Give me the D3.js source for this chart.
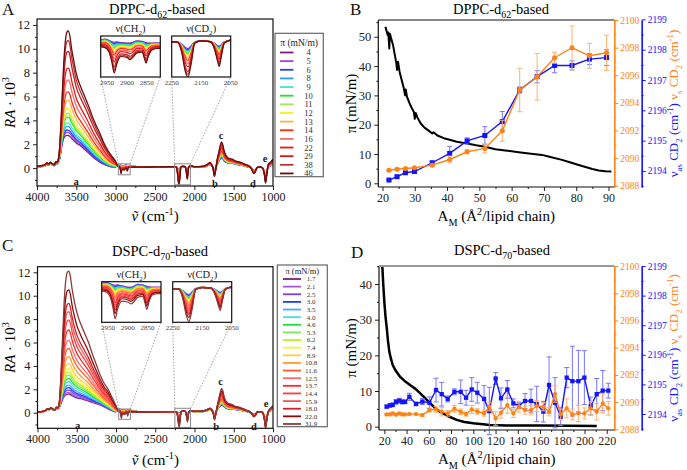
<!DOCTYPE html>
<html>
<head>
<meta charset="utf-8">
<script src="https://cdn.jsdelivr.net/npm/d3@7"></script>
<style>
  body { margin: 0; background: #fff; }
</style>
</head>
<body>
<svg id="fig" width="687" height="470"></svg>
<script>
// ---------- spectra (panels A and C) ----------
// wavenumber grid shared by the traced spectra
const wavenumbers = [
  4000, 3950, 3900, 3870, 3850, 3830, 3800, 3780, 3760, 3745,
  3730, 3715, 3700, 3680, 3660, 3640, 3620, 3600, 3580, 3560,
  3530, 3500, 3450, 3400, 3350, 3300, 3250, 3200, 3150, 3100,
  3050, 3000, 2966, 2955, 2945, 2938, 2932, 2926, 2915, 2900,
  2892, 2885, 2875, 2862, 2856, 2852, 2847, 2838, 2825, 2816,
  2700, 2500, 2300, 2250, 2230, 2215, 2205, 2195, 2185, 2172,
  2150, 2120, 2105, 2095, 2089, 2083, 2072, 2050, 2000, 1900,
  1850, 1800, 1780, 1760, 1745, 1730, 1710, 1690, 1670, 1655,
  1640, 1620, 1600, 1580, 1550, 1520, 1480, 1450, 1400, 1350,
  1300, 1270, 1245, 1225, 1200, 1170, 1140, 1110, 1095, 1080,
  1060, 1030, 1000
];

// DPPC-d62: lowest (4 mN/m) and highest (46 mN/m) traces
const dppcLow = [
  0.1, 0.12, 0.2, 0.3, 0.25, 0.35, 0.25, 0.2, 0.35, 0.35,
  0.5, 0.7, 1.2, 2.0, 2.5, 2.7, 2.75, 2.72, 2.65, 2.5,
  2.3, 2.1, 1.9, 1.6, 1.3, 1.0, 0.72, 0.5, 0.32, 0.18,
  0.09, 0.1, 0.27, 0.29, 0.26, 0.23, 0.22, 0.23, 0.21, 0.2,
  0.2, 0.22, 0.25, 0.24, 0.22, 0.21, 0.2, 0.2, 0.2, 0.2,
  0.1, 0.08, 0.08, 0.1, 0.1, 0.0, -0.12, -0.18, -0.08, 0.1,
  0.15, 0.12, 0.05, -0.05, -0.08, -0.03, 0.1, 0.15, 0.1, 0.1,
  0.15, 0.3, 0.2, 0.05, -0.3, -0.05, 0.3, 0.55, 0.75, 0.85,
  0.8, 0.6, 0.5, 0.45, 0.4, 0.4, 0.35, 0.3, 0.25, 0.15,
  0.1, -0.05, -0.2, -0.15, 0.05, 0.08, 0.05, -0.3, -0.8, -0.35,
  0.1, 0.2, 0.3
];
const dppcHigh = [
  0.15, 0.2, 0.3, 0.45, 0.35, 0.5, 0.35, 0.3, 0.55, 0.5,
  0.7, 1.5, 3.2, 6.0, 8.8, 10.6, 11.4, 11.5, 11.0, 10.0,
  8.9, 7.9, 6.9, 6.1, 5.3, 4.4, 3.6, 2.9, 2.1, 1.5,
  1.0, 0.55, 0.12, 0.1, 0.0, -0.22, -0.47, -0.28, -0.1, -0.12,
  -0.17, -0.12, -0.02, 0.0, -0.14, -0.25, -0.12, 0.04, 0.08, 0.08,
  0.08, 0.1, 0.12, 0.12, 0.1, -0.4, -1.1, -1.4, -0.9, 0.05,
  0.15, 0.12, -0.2, -0.7, -0.95, -0.6, 0.05, 0.2, 0.12, 0.15,
  0.25, 0.45, 0.3, -0.1, -0.7, -0.2, 0.7, 1.3, 1.9, 2.2,
  2.0, 1.4, 1.1, 0.9, 0.8, 0.75, 0.6, 0.55, 0.45, 0.3,
  0.15, -0.1, -0.45, -0.3, 0.05, 0.1, 0.05, -0.5, -1.25, -0.6,
  0.3, 0.5, 0.75
];
const dppcPressures = ["4", "5", "6", "8", "9", "10", "11", "12", "13", "14", "16", "22", "29", "38", "46"];
const dppcPeaks = [2.75, 3.0, 3.2, 3.5, 3.8, 4.3, 4.6, 5.0, 5.7, 6.4, 7.4, 8.4, 9.8, 10.7, 11.5];
const dppcColors = ["#7a1a7a", "#a040e8", "#2a3cf5", "#2a9cf5", "#40e8c8", "#22e622", "#a8e84a", "#f5f020",
  "#ffb04a", "#ff2a10", "#ff6a6a", "#e81818", "#cc1a1a", "#b03a3a", "#6e0a0a"];

// DSPC-d70: lowest (1.7 mN/m) and highest (31.9 mN/m) traces
const dspcLow = [
  0.05, 0.08, 0.15, 0.3, 0.25, 0.35, 0.25, 0.2, 0.3, 0.3,
  0.4, 0.55, 0.8, 1.15, 1.4, 1.52, 1.58, 1.6, 1.55, 1.45,
  1.35, 1.28, 1.2, 1.1, 1.0, 0.88, 0.77, 0.66, 0.5, 0.33,
  0.18, 0.08, 0.28, 0.3, 0.28, 0.25, 0.24, 0.25, 0.23, 0.2,
  0.2, 0.22, 0.26, 0.25, 0.23, 0.22, 0.21, 0.2, 0.2, 0.2,
  0.08, 0.06, 0.08, 0.1, 0.1, 0.0, -0.1, -0.15, -0.05, 0.1,
  0.15, 0.12, 0.05, -0.04, -0.06, -0.02, 0.1, 0.15, 0.1, 0.1,
  0.15, 0.25, 0.2, 0.05, -0.25, -0.05, 0.25, 0.45, 0.6, 0.65,
  0.6, 0.5, 0.4, 0.35, 0.3, 0.3, 0.28, 0.25, 0.2, 0.12,
  0.08, -0.05, -0.15, -0.1, 0.05, 0.08, 0.05, -0.25, -0.7, -0.3,
  0.05, 0.2, 0.35
];
const dspcHigh = [
  0.05, 0.1, 0.2, 0.35, 0.3, 0.45, 0.3, 0.25, 0.5, 0.45,
  0.6, 1.5, 3.5, 6.5, 9.5, 11.3, 12.0, 12.1, 11.6, 10.6,
  9.5, 8.6, 7.6, 6.8, 6.0, 5.0, 4.1, 3.2, 2.5, 2.0,
  1.3, 0.6, 0.12, 0.1, 0.0, -0.22, -0.48, -0.28, -0.1, -0.12,
  -0.16, -0.12, -0.02, 0.0, -0.16, -0.28, -0.14, 0.03, 0.06, 0.06,
  0.06, 0.08, 0.1, 0.1, 0.08, -0.35, -0.95, -1.25, -0.8, 0.05,
  0.14, 0.12, -0.2, -0.6, -0.8, -0.5, 0.05, 0.18, 0.12, 0.15,
  0.25, 0.4, 0.25, -0.1, -0.62, -0.15, 0.6, 1.2, 1.8, 2.08,
  1.9, 1.3, 1.0, 0.85, 0.75, 0.7, 0.55, 0.5, 0.4, 0.25,
  0.1, -0.1, -0.35, -0.25, 0.05, 0.1, 0.05, -0.6, -1.35, -0.7,
  0.1, 0.4, 0.6
];
const dspcPressures = ["1.7", "2.1", "2.5", "3.0", "3.5", "4.0", "4.6", "5.3", "6.2", "7.4",
  "8.9", "10.8", "11.6", "12.5", "13.7", "14.4", "15.9", "18.0", "22.0", "31.9"];
const dspcPeaks = [1.6, 1.74, 1.94, 2.14, 2.36, 2.65, 2.93, 3.22, 3.5, 3.79,
  4.22, 4.79, 5.5, 6.21, 7.07, 7.92, 8.63, 9.34, 10.5, 12.1];
const dspcColors = ["#7b1f7b", "#a855d8", "#7b3ff2", "#1a3cff", "#4aa3ff", "#3fe0f0", "#22dd33", "#7fe85a",
  "#b5f02a", "#fff030", "#ffcc44", "#ff9a2e", "#ff5a2a", "#ff6b6b", "#ff2a2a", "#ff3b3b", "#f05a5a",
  "#d42020", "#8b0a0a", "#8e3a3a"];

// ---------- isotherms + CD2 band positions (panels B and D) ----------
const isoDPPC = [
  [20.9, 53.4], [21.6, 50.6], [21.8, 51.5], [22.1, 46], [22.3, 51], [22.8, 49], [23.3, 47], [23.7, 44.5],
  [24.0, 42.7], [24.3, 41], [24.5, 38.7], [24.8, 41.5], [25.3, 38], [26.0, 35], [26.6, 32.4], [27.0, 30],
  [27.2, 32], [27.6, 29.5], [28.3, 27.5], [29.0, 25.8], [29.7, 24.4], [30.0, 22], [30.3, 24], [30.8, 22.5],
  [31.8, 20.5], [33, 19], [34.5, 17.8], [35.4, 17.0], [35.8, 17.4], [37, 16.3], [39, 15.4], [41.1, 14.8],
  [43, 14.2], [46.2, 13.6], [49, 13.0], [51.7, 12.5], [55, 11.6], [58, 11.2], [62.2, 10.6], [66, 10.1],
  [69.4, 9.7], [72, 9.0], [75.6, 8.0], [78, 7.2], [81.8, 5.9], [85, 4.9], [87, 4.4], [89, 4.1], [90.9, 4.0]
];
const areaDPPC = [22.0, 24.5, 27.1, 29.9, 35.4, 40.8, 46.2, 51.7, 57.1, 62.5, 67.9, 73.3, 78.7, 84.1, 89.4];
const nuAsDPPC = [2193.70, 2193.81, 2193.94, 2193.98, 2194.27, 2194.58, 2194.99, 2195.17, 2195.63, 2196.67,
  2197.11, 2197.48, 2197.48, 2197.69, 2197.74];
const nuAsErrDPPC = [0.03, 0.03, 0.04, 0.05, 0.05, 0.23, 0.1, 0.29, 0.33, 0.1, 0.2, 0.24, 0.15, 0.18, 0.26];
const nuSDPPC = [2089.13, 2089.2, 2089.25, 2089.3, 2089.49, 2089.9, 2090.46, 2090.7, 2091.98, 2094.93,
  2095.89, 2097.27, 2097.99, 2097.41, 2097.63];
const nuSErrDPPC = [0.05, 0.05, 0.05, 0.05, 0.08, 0.24, 0.15, 0.33, 0.76, 1.57, 1.69, 0.4, 1.57, 0.9, 1.27];

const isoDSPC = [
  [17.5, 48], [18.2, 45], [19, 40], [20, 35], [21, 31], [22.2, 27.6], [23.3, 24], [24.5, 21], [26, 19],
  [27.5, 17.3], [30, 15.8], [34.1, 14], [38, 12.9], [43.1, 11.7], [48, 10.6], [52.1, 9.4], [56, 8.2],
  [61.1, 6.6], [65, 5.4], [70.1, 4.2], [77, 3.0], [85.1, 1.9], [92, 1.3], [100, 0.94], [115, 0.5],
  [130, 0.35], [160, 0.3], [211, 0.2]
];
const areaDSPC = [22.1, 25.1, 27.5, 30.5, 33.5, 36.2, 38.6, 42.5, 48.5, 54.2,
  60.5, 66.5, 71.6, 77.0, 83.0, 88.7, 93.5, 98.6, 103.6, 109.7,
  114.4, 120.1, 124.9, 130.6, 136.0, 141.1, 146.5, 151.9, 157.0, 163.0,
  168.1, 173.5, 178.6, 184.0, 189.1, 194.5, 199.9, 205.6, 211.0, 216.4,
  221.4];
const nuAsDSPC = [2194.25, 2194.29, 2194.31, 2194.41, 2194.45, 2194.41, 2194.41, 2194.58, 2194.34, 2194.42,
  2194.38, 2194.81, 2194.67, 2194.51, 2194.75, 2194.75, 2194.55, 2194.83, 2194.72, 2194.51,
  2194.10, 2195.20, 2194.53, 2194.83, 2194.36, 2194.28, 2194.44, 2194.44, 2194.34, 2194.08,
  2194.98, 2194.38, 2193.91, 2195.23, 2195.11, 2195.11, 2195.23, 2194.27, 2194.67, 2194.79,
  2194.79];
const nuAsErrDSPC = [0.05, 0.06, 0.06, 0.08, 0.08, 0.07, 0.06, 0.12, 0.06, 0.1,
  0.2, 0.4, 0.4, 0.1, 0.1, 0.4, 0.25, 0.4, 0.35, 0.45,
  0.8, 0.2, 0.35, 0.3, 0.15, 0.1, 0.25, 0.4, 0.6, 0.35,
  0.95, 0.85, 0.3, 0.34, 1.18, 1.04, 0.91, 0.3, 0.53, 0.68,
  0.25];
const nuSDSPC = [2089.09, 2089.09, 2089.17, 2089.07, 2089.17, 2089.09, 2089.09, 2089.12, 2089.12, 2089.05,
  2089.41, 2089.46, 2089.29, 2089.17, 2089.51, 2089.29, 2089.12, 2089.46, 2089.31, 2089.17,
  2089.66, 2088.80, 2089.22, 2089.78, 2089.17, 2089.66, 2089.41, 2089.41, 2089.71, 2089.66,
  2089.29, 2090.59, 2089.09, 2089.54, 2089.09, 2089.17, 2089.17, 2089.54, 2089.29, 2089.90,
  2089.54];
const nuSErrDSPC = [0.05, 0.05, 0.08, 0.06, 0.06, 0.05, 0.05, 0.06, 0.06, 0.1,
  0.15, 0.2, 0.3, 0.2, 0.25, 0.2, 0.15, 0.3, 0.2, 0.2,
  0.3, 0.5, 0.4, 0.6, 0.3, 0.4, 0.3, 0.35, 0.4, 0.3,
  0.3, 0.6, 0.4, 0.7, 0.4, 0.6, 0.4, 0.5, 0.6, 0.7,
  0.5];

// ---------- drawing ----------
const FONT = "'Liberation Serif', 'Times New Roman', serif";
const BLUE = "#1414ff", BLUE_ERR = "#7676ff";
const ORANGE = "#ff8214", ORANGE_ERR = "#ffb070";
const fmtInt = d3.format("d");

const svg = d3.select("#fig").attr("font-family", FONT);
svg.append("rect").attr("width", 687).attr("height", 470).attr("fill", "#fff");
const defs = svg.append("defs");

function clip(id, x, y, w, h) {
  defs.append("clipPath").attr("id", id).append("rect")
    .attr("x", x).attr("y", y).attr("width", w).attr("height", h);
  return `url(#${id})`;
}

// text with sub/superscripts: parts = [[string, "sub"|"sup"|"it", fill], ...]
function rich(parent, x, y, size, parts, anchor) {
  const t = parent.append("text").attr("x", x).attr("y", y)
    .attr("font-size", size).attr("text-anchor", anchor || "middle");
  let off = 0;
  parts.forEach(([str, kind, fill]) => {
    const ts = t.append("tspan").text(str);
    let target = 0;
    if (kind && kind.includes("sub")) { target = size * 0.3; ts.attr("font-size", size * 0.68); }
    if (kind && kind.includes("sup")) { target = -size * 0.4; ts.attr("font-size", size * 0.68); }
    if (kind && kind.includes("it")) ts.attr("font-style", "italic");
    if (target - off !== 0) ts.attr("dy", target - off);
    off = target;
    if (fill) ts.attr("fill", fill);
  });
  return t;
}

function tidy(sel, size, color, keepDomain) {
  sel.attr("font-family", FONT).attr("font-size", size);
  sel.selectAll("text").attr("fill", color);
  sel.selectAll("line").attr("stroke", color);
  if (keepDomain) sel.select(".domain").attr("stroke", color).attr("stroke-width", 1.2);
  else sel.select(".domain").remove();
}

function spectraPanel(c) {
  const g = svg.append("g");
  const x = d3.scaleLinear().domain([4000, 1000]).range([c.x0, c.x1]);
  const y = d3.scaleLinear().domain(c.yDom).range([c.y1, c.y0]);
  const pLow = d3.max(c.low), pHigh = d3.max(c.high);
  const traces = c.peaks.map(p => {
    const t = (p - pLow) / (pHigh - pLow);
    return wavenumbers.map((w, i) => [w, c.low[i] + (c.high[i] - c.low[i]) * t]);
  });
  const line = d3.line().x(d => x(d[0])).y(d => y(d[1])).curve(d3.curveMonotoneX);

  g.append("g").attr("clip-path", clip(c.id + "-main", c.x0, c.y0, c.x1 - c.x0, c.y1 - c.y0))
    .selectAll("path").data(traces).join("path")
    .attr("d", line).attr("fill", "none")
    .attr("stroke", (d, i) => c.colors[i]).attr("stroke-width", 1.3);

  // axes
  const minorX = d3.range(4000, 999, -250).filter(v => v % 500);
  const gx = g.append("g").attr("transform", `translate(0,${c.y1})`)
    .call(d3.axisBottom(x).tickValues(d3.range(4000, 999, -500)).tickFormat(fmtInt)
      .tickSize(4).tickSizeOuter(0).tickPadding(2));
  tidy(gx, 12, "#222");
  tidy(g.append("g").attr("transform", `translate(0,${c.y1})`)
    .call(d3.axisBottom(x).tickValues(minorX).tickSize(2).tickFormat("")), 10, "#222");
  const gy = g.append("g").attr("transform", `translate(${c.x0},0)`)
    .call(d3.axisLeft(y).tickValues(d3.range(0, 13, 2)).tickSize(4).tickSizeOuter(0).tickPadding(3));
  tidy(gy, 12.5, "#222");
  tidy(g.append("g").attr("transform", `translate(${c.x0},0)`)
    .call(d3.axisLeft(y).tickValues([-1, 1, 3, 5, 7, 9, 11]).tickSize(2).tickFormat("")), 10, "#222");

  // band letters
  c.bands.forEach(([lab, w, v]) => {
    g.append("text").attr("x", x(w)).attr("y", y(v) + 3.5).attr("text-anchor", "middle")
      .attr("font-size", 10.5).attr("font-weight", "bold").attr("fill", "#222").text(lab);
  });

  // zoom boxes + insets
  c.insets.forEach((ins, k) => {
    const bx0 = x(ins.wn[0]), bx1 = x(ins.wn[1]);
    const by0 = y(ins.ry[1]), by1 = y(ins.ry[0]);
    g.append("rect").attr("x", bx0).attr("y", by0).attr("width", bx1 - bx0).attr("height", by1 - by0)
      .attr("fill", "none").attr("stroke", "#8a8a8a").attr("stroke-width", 1);
    [[bx0, ins.x0], [bx1, ins.x1]].forEach(([a, b]) => {
      g.append("line").attr("x1", a).attr("y1", by0).attr("x2", b).attr("y2", ins.y1)
        .attr("stroke", "#8a8a8a").attr("stroke-width", 0.8).attr("stroke-dasharray", "1.5,1.5");
    });
    const ix = d3.scaleLinear().domain(ins.wn).range([ins.x0, ins.x1]);
    const iy = d3.scaleLinear().domain(ins.ry).range([ins.y1, ins.y0]);
    g.append("rect").attr("x", ins.x0).attr("y", ins.y0).attr("width", ins.x1 - ins.x0)
      .attr("height", ins.y1 - ins.y0).attr("fill", "#fff");
    const iline = d3.line().x(d => ix(d[0])).y(d => iy(d[1])).curve(d3.curveMonotoneX);
    g.append("g").attr("clip-path", clip(`${c.id}-in${k}`, ins.x0, ins.y0, ins.x1 - ins.x0, ins.y1 - ins.y0))
      .selectAll("path").data(traces.map(tr => tr.filter(d => d[0] <= ins.wn[0] + 40 && d[0] >= ins.wn[1] - 40)))
      .join("path").attr("d", iline).attr("fill", "none")
      .attr("stroke", (d, i) => c.colors[i]).attr("stroke-width", 1.2);
    g.append("rect").attr("x", ins.x0).attr("y", ins.y0).attr("width", ins.x1 - ins.x0)
      .attr("height", ins.y1 - ins.y0).attr("fill", "none").attr("stroke", "#111").attr("stroke-width", 1.2);
    ins.ticks.forEach(v => {
      g.append("text").attr("x", ix(v)).attr("y", ins.y1 + 7.5).attr("text-anchor", "middle")
        .attr("font-size", 7).attr("fill", "#444").text(v);
    });
    rich(g, (ins.x0 + ins.x1) / 2, ins.y0 - 4, 10.5,
      [[`ν(${ins.label}`, "", "#222"], ["2", "sub", "#222"], [")", "", "#222"]]);
  });

  // frame
  g.append("rect").attr("x", c.x0).attr("y", c.y0).attr("width", c.x1 - c.x0).attr("height", c.y1 - c.y0)
    .attr("fill", "none").attr("stroke", "#111").attr("stroke-width", 1.2);

  // legend
  const L = c.legend;
  g.append("rect").attr("x", L.x0).attr("y", L.y0).attr("width", L.x1 - L.x0).attr("height", L.y1 - L.y0)
    .attr("fill", "#fff").attr("stroke", "#666").attr("stroke-width", 1.2);
  g.append("text").attr("x", (L.x0 + L.x1) / 2).attr("y", L.titleY).attr("text-anchor", "middle")
    .attr("font-size", L.titleSize).attr("fill", "#222").text("π (mN/m)");
  c.labels.forEach((lab, i) => {
    const yy = L.first + i * L.step;
    g.append("line").attr("x1", L.lx0).attr("x2", L.lx1).attr("y1", yy).attr("y2", yy)
      .attr("stroke", c.colors[i]).attr("stroke-width", 1.8);
    g.append("text").attr("x", L.tx).attr("y", yy + L.size * 0.35).attr("text-anchor", "middle")
      .attr("font-size", L.size).attr("fill", "#333").text(lab);
  });

  // titles
  g.append("text").attr("x", c.letter[1]).attr("y", c.letter[2]).attr("font-size", 17).attr("fill", "#111").text(c.letter[0]);
  rich(g, c.title[0], c.title[1], 14.5, c.title[2]);
  rich(g, (c.x0 + c.x1) / 2, c.xLabelY, 15, [["ṽ", "it"], [" (cm"], ["-1", "sup"], [")"]]);
  const yl = g.append("g").attr("transform", `translate(15,${(c.y0 + c.y1) / 2}) rotate(-90)`);
  rich(yl, 0, 0, 15, [["RA", "it"], [" · 10"], ["3", "sup"]]);
}

function isoPanel(c) {
  const g = svg.append("g");
  const x = d3.scaleLinear().domain(c.xDom).range([c.x0, c.x1]);
  const yP = d3.scaleLinear().domain(c.piDom).range([c.y1, c.y0]);
  const yS = d3.scaleLinear().domain(c.sDom).range([c.y1, c.y0]);
  const yA = d3.scaleLinear().domain(c.asDom).range([c.y1, c.y0]);

  g.append("path").datum(c.iso)
    .attr("clip-path", clip(c.id + "-iso", c.x0, c.y0, c.x1 - c.x0, c.y1 - c.y0))
    .attr("d", d3.line().x(d => x(d[0])).y(d => yP(d[1])))
    .attr("fill", "none").attr("stroke", "#000").attr("stroke-width", c.isoW).attr("stroke-linejoin", "round");

  const series = [
    { v: c.asVals, e: c.asErr, s: yA, col: BLUE, err: BLUE_ERR, square: true },
    { v: c.sVals, e: c.sErr, s: yS, col: ORANGE, err: ORANGE_ERR, square: false }
  ];
  series.forEach(sr => {
    const pts = c.area.map((a, i) => ({
      x: x(a), y: sr.s(sr.v[i]), lo: sr.s(sr.v[i] - sr.e[i]), hi: sr.s(sr.v[i] + sr.e[i])
    }));
    const eb = g.append("g").attr("stroke", sr.err).attr("stroke-width", 1);
    pts.forEach(p => {
      eb.append("line").attr("x1", p.x).attr("x2", p.x).attr("y1", p.lo).attr("y2", p.hi);
      [p.lo, p.hi].forEach(yy => eb.append("line").attr("x1", p.x - 2.5).attr("x2", p.x + 2.5).attr("y1", yy).attr("y2", yy));
    });
    g.append("path").datum(pts).attr("d", d3.line().x(d => d.x).y(d => d.y))
      .attr("fill", "none").attr("stroke", sr.col).attr("stroke-width", 1.4);
    if (sr.square) {
      g.selectAll(null).data(pts).join("rect")
        .attr("x", d => d.x - c.mk / 2).attr("y", d => d.y - c.mk / 2)
        .attr("width", c.mk).attr("height", c.mk).attr("fill", sr.col);
    } else {
      g.selectAll(null).data(pts).join("circle")
        .attr("cx", d => d.x).attr("cy", d => d.y).attr("r", c.mk / 2).attr("fill", sr.col);
    }
  });

  // axes
  const gx = g.append("g").attr("transform", `translate(0,${c.y1})`)
    .call(d3.axisBottom(x).tickValues(c.xTicks).tickSize(4).tickSizeOuter(0).tickPadding(2));
  tidy(gx, 12, "#222");
  tidy(g.append("g").attr("transform", `translate(0,${c.y1})`)
    .call(d3.axisBottom(x).tickValues(c.xMinor).tickSize(2).tickFormat("")), 10, "#222");
  const gy = g.append("g").attr("transform", `translate(${c.x0},0)`)
    .call(d3.axisLeft(yP).tickValues(c.piTicks).tickSize(4).tickSizeOuter(0).tickPadding(3));
  tidy(gy, 12.5, "#222");
  tidy(g.append("g").attr("transform", `translate(${c.x0},0)`)
    .call(d3.axisLeft(yP).tickValues(c.piMinor).tickSize(2).tickFormat("")), 10, "#222");

  const gs = g.append("g").attr("transform", `translate(${c.x1},0)`)
    .call(d3.axisRight(yS).tickValues(d3.range(2088, 2101, 2)).tickFormat(fmtInt)
      .tickSize(4).tickSizeOuter(0).tickPadding(2));
  tidy(gs, 9.5, ORANGE, true);
  tidy(g.append("g").attr("transform", `translate(${c.x1},0)`)
    .call(d3.axisRight(yS).tickValues(d3.range(2089, 2100, 2)).tickSize(2).tickFormat("").tickSizeOuter(0)), 9, ORANGE, true);
  const ga = g.append("g").attr("transform", `translate(${c.xb},0)`)
    .call(d3.axisRight(yA).tickValues(d3.range(2194, 2200, 1)).tickFormat(fmtInt)
      .tickSize(4).tickSizeOuter(0).tickPadding(2));
  tidy(ga, 9.5, BLUE, true);
  tidy(g.append("g").attr("transform", `translate(${c.xb},0)`)
    .call(d3.axisRight(yA).tickValues([2193.5, 2194.5, 2195.5, 2196.5, 2197.5, 2198.5]).tickSize(2).tickFormat("").tickSizeOuter(0)), 9, BLUE, true);

  // frame (left, bottom, top)
  g.append("line").attr("x1", c.x0).attr("x2", c.x0).attr("y1", c.y0).attr("y2", c.y1).attr("stroke", "#111").attr("stroke-width", 1.2);
  g.append("line").attr("x1", c.x0).attr("x2", c.x1).attr("y1", c.y1).attr("y2", c.y1).attr("stroke", "#111").attr("stroke-width", 1.2);
  g.append("line").attr("x1", c.x0).attr("x2", c.x1).attr("y1", c.y0).attr("y2", c.y0)
    .attr("stroke", c.topColor).attr("stroke-width", c.topW);

  // labels
  g.append("text").attr("x", c.letter[1]).attr("y", c.letter[2]).attr("font-size", 17).attr("fill", "#111").text(c.letter[0]);
  rich(g, c.title[0], c.title[1], 14.5, c.title[2]);
  rich(g, (c.x0 + c.x1) / 2, c.xLabelY, 15, [["A"], ["M", "sub"], [" (Å"], ["2", "sup"], ["/lipid chain)"]]);
  const yl = g.append("g").attr("transform", `translate(356,${(c.y0 + c.y1) / 2}) rotate(-90)`);
  rich(yl, 0, 0, 15, [["π (mN/m)"]]);
  const rl = g.append("g").attr("transform", `translate(678,${(c.y0 + c.y1) / 2}) rotate(-90)`);
  rich(rl, 0, 0, 13, [
    ["ν", "", BLUE], ["as", "sub", BLUE], [" CD", "", BLUE], ["2", "sub", BLUE], [" (cm", "", BLUE], ["-1", "sup", BLUE], [")  ", "", BLUE],
    ["ν", "", ORANGE], ["s", "sub", ORANGE], [" CD", "", ORANGE], ["2", "sub", ORANGE], [" (cm", "", ORANGE], ["-1", "sup", ORANGE], [")", "", ORANGE]
  ]);
}

const subTitle = (name, n) => [[name + "-d"], [n, "sub"], ["-based"]];

spectraPanel({
  id: "A", x0: 37, x1: 273, y0: 19, y1: 186, yDom: [-1.5, 12.5],
  low: dppcLow, high: dppcHigh, peaks: dppcPeaks, colors: dppcColors, labels: dppcPressures,
  bands: [["a", 3504, -1.15], ["b", 1737, -1.25], ["c", 1661, 2.7], ["d", 1255, -1.25], ["e", 1100, 0.8]],
  insets: [
    { label: "CH", wn: [2966, 2816], ry: [-0.56, 0.36], x0: 100.7, x1: 160.3, y0: 36, y1: 77, ticks: [2950, 2900, 2850] },
    { label: "CD", wn: [2250, 2050], ry: [-1.4, 0.36], x0: 171.7, x1: 230.7, y0: 36, y1: 77, ticks: [2250, 2150, 2050] }
  ],
  legend: { x0: 275, x1: 323.3, y0: 33.3, y1: 176.7, titleY: 45.5, titleSize: 9.5, first: 52.5, step: 8.64,
    lx0: 280, lx1: 293.5, tx: 308.5, size: 8.5 },
  letter: ["A", 2, 15], title: [157, 14, subTitle("DPPC", "62")], xLabelY: 221
});

spectraPanel({
  id: "C", x0: 37.5, x1: 273, y0: 266.7, y1: 428.3, yDom: [-1.33, 12.48],
  low: dspcLow, high: dspcHigh, peaks: dspcPeaks, colors: dspcColors, labels: dspcPressures,
  bands: [["a", 3488, -1.05], ["b", 1725, -1.2], ["c", 1668, 2.65], ["d", 1242, -1.2], ["e", 1089, 0.8]],
  insets: [
    { label: "CH", wn: [2966, 2816], ry: [-0.56, 0.32], x0: 101.7, x1: 161, y0: 281.7, y1: 322.3, ticks: [2950, 2900, 2850] },
    { label: "CD", wn: [2250, 2050], ry: [-1.28, 0.38], x0: 172.7, x1: 231.7, y0: 281.7, y1: 322.3, ticks: [2250, 2150, 2050] }
  ],
  legend: { x0: 277.3, x1: 327.3, y0: 265, y1: 426.7, titleY: 273.5, titleSize: 8.5, first: 279, step: 7.63,
    lx0: 283, lx1: 301, tx: 311, size: 7 },
  letter: ["C", 2, 251], title: [160, 256, subTitle("DSPC", "70")], xLabelY: 465
});

isoPanel({
  id: "B", x0: 378.3, x1: 614.3, y0: 20, y1: 187, xb: 641.7,
  xDom: [18.7, 91.8], piDom: [-1.26, 55.73], sDom: [2087.91, 2100], asDom: [2193.47, 2198.98],
  iso: isoDPPC, isoW: 2, area: areaDPPC, asVals: nuAsDPPC, asErr: nuAsErrDPPC, sVals: nuSDPPC, sErr: nuSErrDPPC,
  mk: 5, xTicks: d3.range(20, 91, 10), xMinor: d3.range(25, 91, 10), piTicks: d3.range(0, 51, 10), piMinor: d3.range(5, 56, 10),
  topColor: "#111", topW: 1.2, letter: ["B", 350, 15], title: [501, 14, subTitle("DPPC", "62")], xLabelY: 221
});

isoPanel({
  id: "D", x0: 379, x1: 614.3, y0: 266, y1: 430, xb: 641.7,
  xDom: [15.2, 226.8], piDom: [-0.93, 45.05], sDom: [2087.95, 2100], asDom: [2193.46, 2199],
  iso: isoDSPC, isoW: 2.5, area: areaDSPC, asVals: nuAsDSPC, asErr: nuAsErrDSPC, sVals: nuSDSPC, sErr: nuSErrDSPC,
  mk: 4.3, xTicks: d3.range(20, 221, 20), xMinor: d3.range(30, 221, 20), piTicks: d3.range(0, 41, 10), piMinor: d3.range(5, 46, 10),
  topColor: "#9a9a9a", topW: 2, letter: ["D", 351, 258], title: [502, 255, subTitle("DSPC", "70")], xLabelY: 464
});
</script>
</body>
</html>
